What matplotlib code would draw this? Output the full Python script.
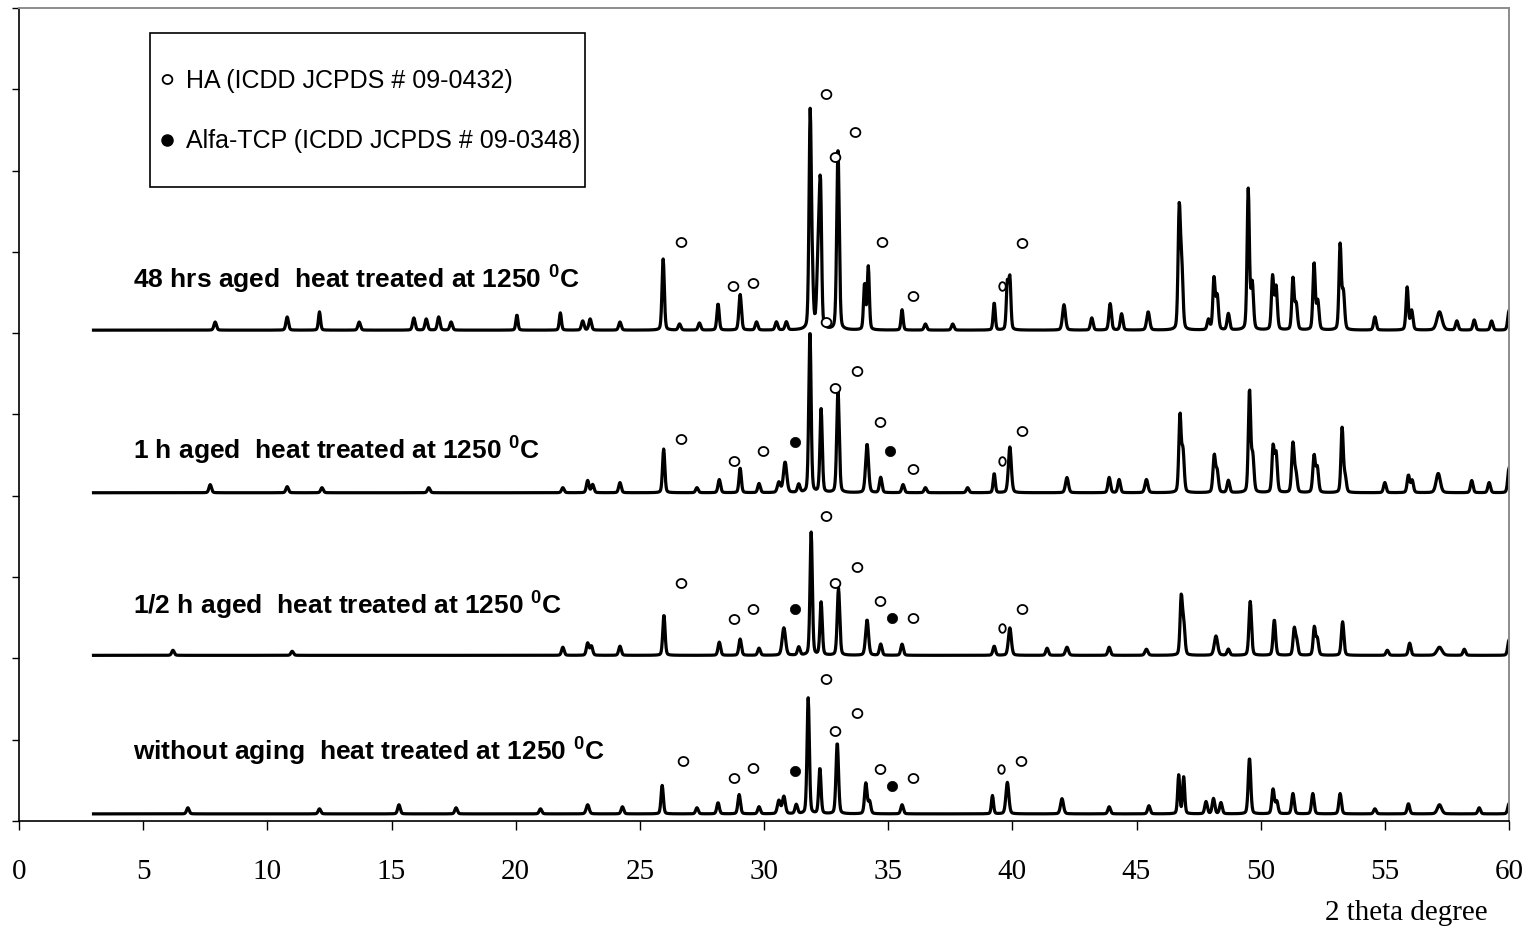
import numpy as np
import matplotlib
matplotlib.use("Agg")
import matplotlib.pyplot as plt
from matplotlib.lines import Line2D
from matplotlib.patches import Rectangle
from matplotlib.path import Path

plt.rcParams["font.family"] = ["Liberation Sans", "DejaVu Sans"]
plt.rcParams["mathtext.fontset"] = "custom"
plt.rcParams["mathtext.rm"] = "Liberation Sans"
plt.rcParams["mathtext.bf"] = "Liberation Sans:bold"

# ---------------------------------------------------------------- data
scan_start, scan_end, scan_step = 3.0, 60.0, 0.02

sample_labels = [
    r"without aging  heat treated at 1250 $^{\mathbf{0}}$C",
    r"1/2 h aged  heat treated at 1250 $^{\mathbf{0}}$C",
    r"1 h aged  heat treated at 1250 $^{\mathbf{0}}$C",
    r"48 hrs aged  heat treated at 1250 $^{\mathbf{0}}$C",
]
# background level of each stacked pattern (arb. units)
baselines = [7, 163, 323, 483]

# reflections of each pattern: 2-theta, height above background, half width
pos_0h = [6.8, 12.1, 15.3, 17.6, 21.0, 22.9, 24.3, 25.9, 27.3, 28.15, 29.0, 29.8,
          30.6, 30.8, 31.3, 31.78, 32.25, 32.95, 34.1, 34.25, 35.56, 39.2, 39.8,
          42.0, 43.9, 45.5, 46.7, 46.9, 47.8, 48.1, 48.4, 49.55, 50.5, 50.65,
          51.3, 52.1, 53.2, 54.6, 55.95, 57.2, 58.8, 60.0]
hgt_0h = [6, 5, 9, 6, 5, 9, 7, 28, 6, 11, 19, 7,
          13, 17, 9, 114, 45, 70, 30, 12, 9, 18, 31,
          15, 7, 8, 38, 36, 12, 15, 11, 55, 24, 12,
          20, 20, 20, 5, 10, 9, 6, 10]
wid_0h = [.06, .06, .06, .06, .06, .07, .06, .055, .06, .06, .06, .06,
          .07, .07, .06, .055, .055, .06, .06, .06, .06, .05, .07,
          .07, .06, .06, .05, .05, .06, .06, .06, .06, .06, .06,
          .06, .06, .06, .06, .06, .10, .06, .06]

pos_half = [6.2, 11.0, 21.9, 22.9, 23.05, 24.2, 25.97, 28.2, 29.04, 29.8, 30.8,
            31.4, 31.9, 32.3, 33.0, 34.15, 34.7, 35.56, 39.27, 39.9, 41.4, 42.2,
            43.9, 45.4, 46.8, 46.9, 48.2, 48.7, 49.58, 50.55, 51.35, 51.45,
            52.16, 52.28, 53.3, 55.1, 56.0, 57.2, 58.2, 60.0]
hgt_half = [5, 4, 8, 12, 9, 9, 40, 13, 16, 7, 27,
            8, 121, 52, 66, 35, 11, 11, 9, 27, 7, 8,
            8, 6, 55, 30, 19, 6, 53, 35, 25, 14,
            27, 16, 33, 5, 12, 8, 6, 15]
wid_half = [.06, .06, .06, .06, .06, .06, .055, .06, .06, .06, .08,
            .06, .055, .055, .06, .07, .06, .06, .06, .07, .06, .07,
            .06, .07, .055, .06, .08, .06, .06, .06, .055, .06,
            .055, .06, .06, .06, .06, .12, .06, .06]

pos_1h = [7.7, 10.8, 12.2, 16.5, 21.9, 22.9, 23.1, 24.2, 25.96, 27.3, 28.2, 29.04,
          29.8, 30.6, 30.85, 31.4, 31.85, 32.3, 32.98, 34.15, 34.7, 35.6, 36.5,
          38.2, 39.27, 39.9, 42.2, 43.9, 44.3, 45.4, 46.75, 46.87, 48.13, 48.25,
          48.7, 49.55, 49.68, 50.5, 50.62, 51.3, 51.42, 52.15, 52.28, 53.28,
          53.4, 55.0, 55.95, 56.1, 57.15, 58.5, 59.2, 60.0]
hgt_1h = [8, 6, 5, 5, 5, 12, 8, 10, 43, 5, 13, 24,
          9, 10, 30, 8, 160, 82, 100, 48, 15, 8, 5,
          5, 19, 45, 15, 15, 13, 13, 75, 40, 36, 20,
          12, 100, 35, 44, 38, 48, 18, 36, 24, 63,
          15, 10, 17, 12, 19, 12, 10, 24]
wid_1h = [.06, .06, .06, .06, .06, .06, .06, .06, .055, .06, .06, .055,
          .06, .07, .08, .06, .055, .055, .06, .07, .06, .06, .06,
          .06, .05, .07, .07, .06, .06, .07, .055, .06, .06, .06,
          .06, .055, .06, .055, .06, .06, .06, .06, .06, .055,
          .06, .06, .06, .06, .10, .06, .06, .06]

pos_48h = [7.9, 10.8, 12.1, 13.7, 15.9, 16.4, 16.9, 17.4, 20.05, 21.8, 22.7, 23.0,
           24.2, 25.94, 26.6, 27.4, 28.15, 29.04, 29.7, 30.5, 30.9, 31.86, 31.95,
           32.2, 32.28, 32.98, 34.05, 34.2, 35.56, 36.5, 37.6, 39.27, 39.8, 39.9,
           42.08, 43.2, 43.94, 44.4, 45.47, 46.72, 46.82, 47.9, 48.12, 48.25,
           48.7, 49.5, 49.66, 50.48, 50.62, 51.3, 51.43, 52.15, 52.3, 53.2,
           53.33, 54.6, 55.9, 56.08, 57.2, 57.9, 58.6, 59.3, 60.0]
hgt_48h = [8, 13, 18, 8, 12, 11, 13, 8, 15, 17, 9, 11,
           8, 70, 6, 7, 26, 35, 8, 8, 8, 212, 35,
           90, 110, 176, 45, 62, 20, 6, 6, 27, 45, 50,
           25, 12, 26, 16, 18, 115, 60, 10, 50, 33,
           16, 138, 45, 52, 42, 50, 25, 66, 28, 83,
           36, 13, 42, 19, 18, 9, 10, 9, 19]
wid_48h = [.06, .06, .05, .06, .06, .06, .06, .06, .05, .05, .06, .06,
           .06, .055, .06, .06, .055, .06, .06, .06, .06, .055, .05,
           .07, .05, .06, .05, .05, .05, .06, .06, .05, .05, .05,
           .07, .06, .06, .06, .07, .055, .06, .06, .055, .06,
           .06, .055, .06, .055, .06, .055, .06, .055, .06, .055,
           .06, .06, .055, .06, .12, .06, .06, .06, .06]

# phase identification marks: 2-theta and height on the stacked scale
ha_theta = [
    [26.74, 28.80, 29.56, 32.50, 32.86, 33.75, 34.68, 36.00, 40.35],
    [26.66, 28.80, 29.56, 32.50, 32.86, 33.75, 34.68, 36.00, 40.39],
    [26.66, 28.80, 29.96, 32.50, 32.86, 33.75, 34.68, 36.00, 40.39],
    [26.66, 28.76, 29.56, 32.50, 32.86, 33.67, 34.76, 36.00, 40.39],
]
ha_level = [
    [59, 42, 52, 140, 89, 106, 51, 42, 59],
    [234, 199, 209, 300, 234, 250, 216, 200, 209],
    [376, 354, 364, 491, 426, 443, 393, 346, 384],
    [570, 526, 529, 715, 653, 678, 570, 517, 569],
]
ha_minor_theta = [39.55, 39.59, 39.59, 39.59]
ha_minor_level = [51, 190, 354, 526]
tcp_theta = [[31.25, 35.16], [31.25, 35.16], [31.25, 35.08], []]
tcp_level = [[49, 34], [209, 200], [373, 364], []]

legend_labels = ["HA (ICDD JCPDS # 09-0432)", "Alfa-TCP (ICDD JCPDS # 09-0348)"]
x_ticks = list(range(0, 61, 5))


# ---------------------------------------------------------------- helpers
def pattern(grid, pos, hgt, wid, base):
    """Pseudo-Voigt sum of the listed reflections on a flat background."""
    y = np.full_like(grid, float(base))
    for p, h, w in zip(pos, hgt, wid):
        d = ((grid - p) / w) ** 2
        y += h * (0.75 * np.exp(-np.log(2) * d) + 0.25 / (1.0 + d))
    return y


def ellipse_marker(aspect):
    t = np.linspace(0, 2 * np.pi, 60)
    verts = np.column_stack([aspect * np.cos(t), np.sin(t)])
    return Path(verts, closed=True)


# ---------------------------------------------------------------- figure
W, H = 1535, 934
fig = plt.figure(figsize=(W / 100, H / 100), dpi=100)
ax = fig.add_axes([19 / W, 113 / H, 1490 / W, 813 / H])

grid = np.arange(scan_start, scan_end + scan_step / 2, scan_step)
series = [
    (pos_0h, hgt_0h, wid_0h),
    (pos_half, hgt_half, wid_half),
    (pos_1h, hgt_1h, wid_1h),
    (pos_48h, hgt_48h, wid_48h),
]
for (pos, hgt, wid), base in zip(series, baselines):
    ax.plot(grid, pattern(grid, pos, hgt, wid, base), color="black",
            lw=2.3, solid_joinstyle="round", zorder=2)

ha_marker = ellipse_marker(1.08)
ha_minor = ellipse_marker(0.75)
for i in range(4):
    ax.plot(ha_theta[i], ha_level[i], ls="none", marker=ha_marker, ms=7.0,
            mfc="white", mec="black", mew=1.3, zorder=3)
    ax.plot([ha_minor_theta[i]], [ha_minor_level[i]], ls="none",
            marker=ha_minor, ms=6.2, mfc="white", mec="black", mew=1.3,
            zorder=3)
    if tcp_theta[i]:
        ax.plot(tcp_theta[i], tcp_level[i], ls="none", marker="o", ms=7.4,
                mfc="black", mec="black", mew=0.5, zorder=3)

label_y = [69, 213, 366, 534]
for txt, yv in zip(sample_labels, label_y):
    ax.text(4.6, yv, txt, ha="left", va="center", fontsize=19,
            fontweight="bold", color="black")

# axes styling
ax.set_xlim(0, 60)
ax.set_ylim(0, 800)
ax.set_xticks(x_ticks)
ax.set_yticks(np.arange(0, 801, 80))
ax.tick_params(axis="y", direction="out", length=5, width=1.0,
               labelleft=False, color="black")
ax.tick_params(axis="x", direction="out", length=6.5, width=1.0,
               labelsize=21, pad=21, color="black")
for lab in ax.get_xticklabels():
    lab.set_fontfamily("Liberation Serif")
for side in ("left", "bottom"):
    ax.spines[side].set_color("black")
    ax.spines[side].set_linewidth(1.2)
for side in ("top", "right"):
    ax.spines[side].set_color("#8c8c8c")
    ax.spines[side].set_linewidth(1.4)

ax.set_xlabel("2 theta degree", fontsize=21, family="Liberation Serif",
              ha="right", va="baseline")
ax.xaxis.set_label_coords((1488 - 19) / 1490, (821 - 920) / 813)

# legend with its own rectangular frame
handles = [
    Line2D([], [], ls="none", marker=ha_marker, ms=7.0, mfc="white",
           mec="black", mew=1.3),
    Line2D([], [], ls="none", marker="o", ms=8.0, mfc="black", mec="black"),
]
ax.legend(handles, legend_labels, loc="upper left",
          bbox_to_anchor=(157 / W, 1 - 69 / H), bbox_transform=fig.transFigure,
          frameon=False, fontsize=18, borderpad=0, borderaxespad=0,
          handlelength=0.8, handletextpad=0.35, labelspacing=1.45)
fig.patches.append(Rectangle((150 / W, 1 - 187 / H), 435 / W, 154 / H,
                             transform=fig.transFigure, fill=True,
                             facecolor="none", edgecolor="black", lw=1.2))

fig.savefig("out.png", dpi=100)
